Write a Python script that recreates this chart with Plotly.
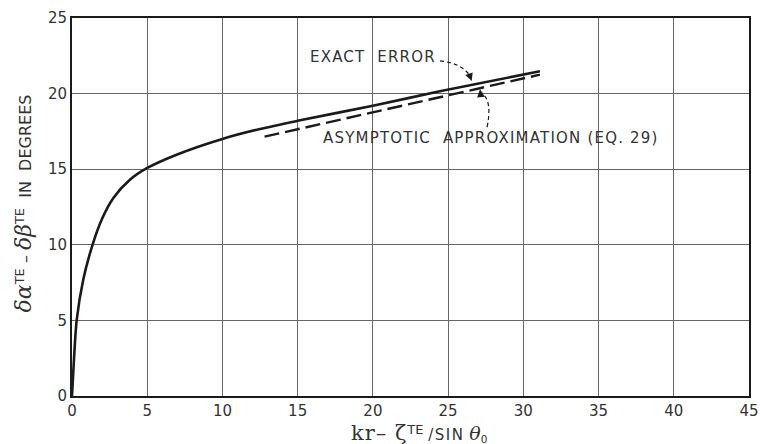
import plotly.graph_objects as go

# Exact error curve
exact_x = [0, 0.13, 0.31, 0.75, 1.35, 1.97, 2.75, 3.85, 5.0, 6.95, 10.05, 12.5, 15.0, 20.0, 24.45, 31.1]
exact_y = [0, 2.4, 5.0, 7.7, 9.95, 11.66, 13.1, 14.3, 15.08, 15.96, 17.02, 17.66, 18.2, 19.2, 20.15, 21.48]

# Asymptotic approximation (Eq. 29)
asym_x = [12.8, 24.45, 31.1]
asym_y = [17.15, 19.76, 21.25]

x_ticks = [0, 5, 10, 15, 20, 25, 30, 35, 40, 45]
y_ticks = [0, 5, 10, 15, 20, 25]

INK = "#1a1a1a"
FONT = "DejaVu Sans"

fig = go.Figure()
fig.add_trace(go.Scatter(x=exact_x, y=exact_y, mode="lines",
                         line=dict(color=INK, width=2.6, shape="spline", smoothing=0.8),
                         showlegend=False, hoverinfo="skip"))
fig.add_trace(go.Scatter(x=asym_x, y=asym_y, mode="lines",
                         line=dict(color=INK, width=2.4, dash="15px,6px"),
                         showlegend=False, hoverinfo="skip"))

axis_common = dict(showgrid=True, gridcolor="#666666", gridwidth=1,
                   showline=True, linecolor=INK, linewidth=2, mirror=True,
                   zeroline=False, ticks="", automargin=False,
                   tickfont=dict(family=FONT, size=15, color="#333333"))

fig.update_xaxes(range=[0, 45], tickvals=x_ticks, ticktext=[str(v) for v in x_ticks], **axis_common)
fig.update_yaxes(range=[0, 25], tickvals=y_ticks, ticktext=[str(v) for v in y_ticks], **axis_common)

# Dashed curved leader lines
fig.add_shape(type="path", xref="x", yref="y",
              path="M 24.46,22.16 Q 25.92,22.02 26.46,21.16",
              line=dict(color=INK, width=1.2, dash="4px,3px"))
fig.add_shape(type="path", xref="x", yref="y",
              path="M 27.59,17.79 Q 27.95,19.5 27.25,20.04",
              line=dict(color=INK, width=1.2, dash="4px,3px"))

LS = '<span style="letter-spacing:1.2px">%s</span>'
SUP = '<sup><span style="font-size:13px">TE</span></sup>'
annotations = [
    dict(x=20.0, y=22.45, xref="x", yref="y", text=LS % "EXACT  ERROR", showarrow=False,
         font=dict(family=FONT, size=15, color="#333333")),
    dict(x=27.84, y=17.09, xref="x", yref="y", text=LS % "ASYMPTOTIC  APPROXIMATION (EQ. 29)", showarrow=False,
         font=dict(family=FONT, size=15, color="#333333")),
    # arrow heads
    dict(x=26.57, y=20.83, xref="x", yref="y", text="", showarrow=True, ax=-3, ay=-8,
         arrowhead=2, arrowsize=1.3, arrowwidth=1.2, arrowcolor=INK),
    dict(x=27.12, y=20.28, xref="x", yref="y", text="", showarrow=True, ax=1, ay=8,
         arrowhead=2, arrowsize=1.3, arrowwidth=1.2, arrowcolor=INK),
    # axis titles
    dict(x=0.512, y=-0.098, xref="paper", yref="paper", yanchor="middle", showarrow=False,
         text=('<span style="font-family:DejaVu Serif;font-size:21px;letter-spacing:1px">kr– ζ</span>'
               + SUP + ' <span style="letter-spacing:1.5px">/SIN</span> '
               '<span style="font-family:DejaVu Serif;font-size:19px;font-style:italic">θ</span><sub>0</sub>'),
         font=dict(family=FONT, size=15, color="#333333")),
    dict(x=-0.072, y=0.51, xref="paper", yref="paper", xanchor="center", showarrow=False, textangle=-90,
         text=('<span style="font-family:DejaVu Serif;font-size:22px;font-style:italic">δα</span>' + SUP +
               ' – <span style="font-family:DejaVu Serif;font-size:22px;font-style:italic">δβ</span>' + SUP +
               '  IN  DEGREES'),
         font=dict(family=FONT, size=16, color="#333333")),
]
fig.update_layout(annotations=annotations)

fig.update_layout(width=760, height=444,
                  margin=dict(l=72, r=11, t=18, b=48),
                  paper_bgcolor="white", plot_bgcolor="white")

fig.write_html("out.html", config={"displayModeBar": False},
               post_script="document.body.style.margin='0px';document.body.style.overflow='hidden';")
